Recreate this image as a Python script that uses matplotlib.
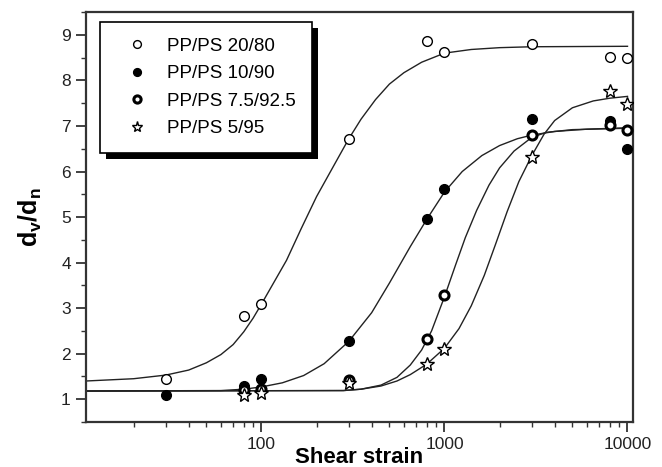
import numpy as np
import matplotlib
matplotlib.use("Agg")
import matplotlib.pyplot as plt
from matplotlib.patches import Rectangle
from matplotlib.ticker import LogLocator, MultipleLocator, NullFormatter

plt.rcParams['font.family'] = ['Liberation Sans', 'DejaVu Sans']
plt.rcParams['mathtext.fontset'] = 'custom'
plt.rcParams['mathtext.rm'] = 'Liberation Sans'
plt.rcParams['mathtext.bf'] = 'Liberation Sans:bold'
plt.rcParams['mathtext.it'] = 'Liberation Sans:italic'

# measured points
strain_2080 = [30, 80, 100, 300, 800, 1000, 3000, 8000, 10000]
dvdn_2080 = [1.44, 2.82, 3.08, 6.71, 8.87, 8.63, 8.80, 8.52, 8.50]

strain_1090 = [30, 80, 100, 300, 800, 1000, 3000, 8000, 10000]
dvdn_1090 = [1.10, 1.30, 1.45, 2.27, 4.96, 5.62, 7.15, 7.11, 6.49]

strain_75 = [80, 100, 300, 800, 1000, 3000, 8000, 10000]
dvdn_75 = [1.20, 1.22, 1.42, 2.32, 3.28, 6.80, 7.02, 6.91]

strain_595 = [80, 100, 300, 800, 1000, 3000, 8000, 10000]
dvdn_595 = [1.10, 1.13, 1.35, 1.77, 2.10, 6.32, 7.77, 7.48]

# fitted curves
fit_x_2080 = [11, 20, 30, 40, 50, 60, 70, 80, 90, 100, 137, 165, 200, 250, 299, 350,
              420, 500, 600, 750, 1000, 1400, 2000, 3000, 10000]
fit_y_2080 = [1.40, 1.45, 1.53, 1.64, 1.80, 1.98, 2.20, 2.48, 2.78, 3.09, 4.05, 4.75,
              5.45, 6.15, 6.71, 7.15, 7.58, 7.92, 8.17, 8.40, 8.60, 8.68, 8.72, 8.74, 8.75]

fit_x_1090 = [11, 60, 80, 100, 130, 170, 220, 300, 400, 500, 650, 800, 1000, 1250,
              1600, 2000, 2500, 3000, 4000, 6000, 10000]
fit_y_1090 = [1.18, 1.19, 1.22, 1.27, 1.36, 1.52, 1.78, 2.27, 2.90, 3.55, 4.35, 4.95,
              5.55, 6.00, 6.35, 6.57, 6.72, 6.80, 6.88, 6.93, 6.96]

fit_x_75 = [11, 280, 350, 450, 550, 650, 750, 850, 1000, 1150, 1300, 1500, 1750,
            2000, 2400, 3000, 3600, 5000, 10000]
fit_y_75 = [1.18, 1.19, 1.22, 1.31, 1.48, 1.75, 2.08, 2.50, 3.25, 3.95, 4.55, 5.15,
            5.70, 6.08, 6.45, 6.75, 6.86, 6.92, 6.95]

fit_x_595 = [11, 280, 350, 450, 550, 650, 800, 1000, 1200, 1400, 1650, 1900, 2200,
             2550, 3000, 3500, 4000, 5000, 6500, 8000, 10000]
fit_y_595 = [1.18, 1.19, 1.22, 1.29, 1.40, 1.54, 1.77, 2.12, 2.55, 3.05, 3.72, 4.40,
             5.12, 5.78, 6.35, 6.82, 7.12, 7.40, 7.55, 7.61, 7.65]

labels = ['PP/PS 20/80', 'PP/PS 10/90', 'PP/PS 7.5/92.5', 'PP/PS 5/95']

fig = plt.figure(figsize=(6.62, 4.67), dpi=100)
ax = fig.add_axes([0.130, 0.0964, 0.826, 0.8776])

lc = '#222222'
for fx, fy in [(fit_x_2080, fit_y_2080), (fit_x_1090, fit_y_1090),
               (fit_x_75, fit_y_75), (fit_x_595, fit_y_595)]:
    ax.plot(fx, fy, color=lc, lw=1.0, zorder=2)

ax.plot(strain_2080, dvdn_2080, 'o', ms=7, mfc='white', mec='black', mew=1.0,
        ls='none', label=labels[0], zorder=3)
ax.plot(strain_1090, dvdn_1090, 'o', ms=7, mfc='black', mec='black', mew=1.0,
        ls='none', label=labels[1], zorder=3)
ax.plot(strain_75, dvdn_75, 'o', ms=6.5, mfc='white', mec='black', mew=2.2,
        ls='none', label=labels[2], zorder=3)
ax.plot(strain_595, dvdn_595, '*', ms=10, mfc='white', mec='black', mew=1.0,
        ls='none', label=labels[3], zorder=3)

ax.set_xscale('log')
ax.set_xlim(11, 10700)
ax.set_ylim(0.5, 9.5)
ax.set_xticks([100, 1000, 10000])
ax.set_xticklabels(['100', '1000', '10000'])
ax.xaxis.set_minor_locator(LogLocator(base=10, subs=np.arange(2, 10)))
ax.xaxis.set_minor_formatter(NullFormatter())
ax.yaxis.set_minor_locator(MultipleLocator(0.5))
ax.set_yticks(range(1, 10))

for s in ax.spines.values():
    s.set_linewidth(1.6)
    s.set_color('#333333')

ax.tick_params(which='major', direction='out', length=7, width=1.3,
               labelsize=12.5, labelcolor='#222222', color='#333333', pad=4,
               top=False, right=False)
ax.tick_params(which='minor', direction='out', length=3.5, width=1.0,
               color='#333333', top=False, right=False)

ax.set_xlabel('Shear strain', fontsize=16, fontweight='bold', labelpad=-4)
ax.set_ylabel(r'$\mathbf{d_v/d_n}$', fontsize=18, labelpad=12)

leg = ax.legend(loc='upper left', bbox_to_anchor=(0.0256, 0.976), borderaxespad=0,
                fontsize=13.5, frameon=True, fancybox=False, shadow=False,
                borderpad=0.85, handlelength=2.24, handletextpad=0.48,
                labelspacing=0.55, markerscale=0.8)
leg.get_frame().set_edgecolor('black')
leg.get_frame().set_linewidth(1.2)
leg.get_frame().set_alpha(1)

# offset black shadow under the legend box
fig.canvas.draw()
bb = leg.get_frame().get_window_extent().transformed(ax.transAxes.inverted())
dx = 6 / (ax.bbox.width)
dy = 6 / (ax.bbox.height)
ax.add_patch(Rectangle((bb.x0 + dx, bb.y0 - dy), bb.width, bb.height,
                       transform=ax.transAxes, facecolor='black', edgecolor='none',
                       zorder=4.9, clip_on=False))

fig.savefig('out.png', dpi=100)
